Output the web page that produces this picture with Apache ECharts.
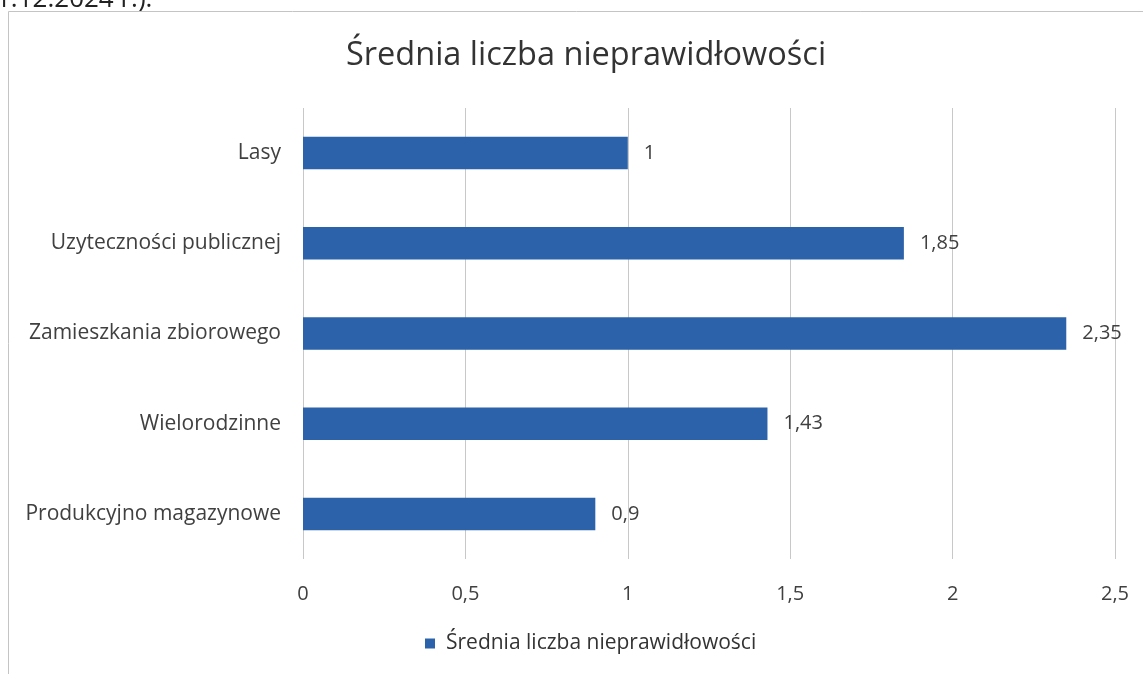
<!DOCTYPE html>
<html>
<head>
<meta charset="utf-8">
<script src="https://cdn.jsdelivr.net/npm/echarts@6/dist/echarts.min.js"></script>
<style>
  html, body { margin: 0; padding: 0; background: #ffffff; }
  #chart { width: 1143px; height: 674px; }
</style>
</head>
<body>
<div id="chart"></div>
<script>
// Category names, top to bottom as drawn
const categories = [
  'Lasy',
  'Uzyteczności publicznej',
  'Zamieszkania zbiorowego',
  'Wielorodzinne',
  'Produkcyjno magazynowe'
];
// Average number of irregularities per category
const values = [1, 1.85, 2.35, 1.43, 0.9];
const seriesName = 'Średnia liczba nieprawidłowości';
const xTicks = [0, 0.5, 1, 1.5, 2, 2.5];

const fmt = v => String(v).replace('.', ',');
const font = '"Open Sans", "Noto Sans", sans-serif';

const chart = echarts.init(document.getElementById('chart'));
chart.setOption({
  backgroundColor: '#ffffff',
  animation: false,
  graphic: [
    {
      type: 'text', left: -4, top: -13,
      style: { text: '1.12.2024 r.).', font: '26px ' + font, fill: '#222' }
    },
    {
      // chart frame (continues past the right and bottom edges)
      type: 'rect', shape: { x: 8.5, y: 11.5, width: 1200, height: 700 },
      style: { fill: 'none', stroke: '#c4c4c4', lineWidth: 1 }
    }
  ],
  title: {
    text: seriesName,
    left: 341,
    top: 34,
    textStyle: { fontFamily: font, fontSize: 32.5, fontWeight: 'normal', color: '#333' }
  },
  legend: {
    top: 628,
    left: 420,
    itemWidth: 10,
    itemHeight: 10,
    icon: 'rect',
    itemGap: 6,
    textStyle: { fontFamily: font, fontSize: 21, color: '#333', padding: [0, 0, 0, 6] },
    data: [seriesName]
  },
  grid: { left: 303, right: 28, top: 108, bottom: 115, containLabel: false },
  xAxis: {
    type: 'value',
    min: xTicks[0],
    max: xTicks[xTicks.length - 1],
    interval: 0.5,
    axisLine: { show: false },
    axisTick: { show: false },
    axisLabel: {
      fontFamily: font, fontSize: 20, color: '#404040', margin: 25,
      formatter: v => fmt(v)
    },
    splitLine: { show: true, lineStyle: { color: '#c8c8c8', width: 1 } }
  },
  yAxis: {
    type: 'category',
    inverse: true,
    data: categories,
    axisLine: { show: false },
    axisTick: { show: false },
    axisLabel: { fontFamily: font, fontSize: 21, color: '#404040', margin: 22 }
  },
  series: [{
    name: seriesName,
    type: 'bar',
    data: values,
    barWidth: '36%',
    itemStyle: { color: '#2b62a9' },
    label: {
      show: true,
      position: 'right',
      distance: 16,
      fontFamily: font, fontSize: 20, color: '#404040',
      formatter: p => fmt(p.value)
    }
  }]
});
</script>
</body>
</html>
